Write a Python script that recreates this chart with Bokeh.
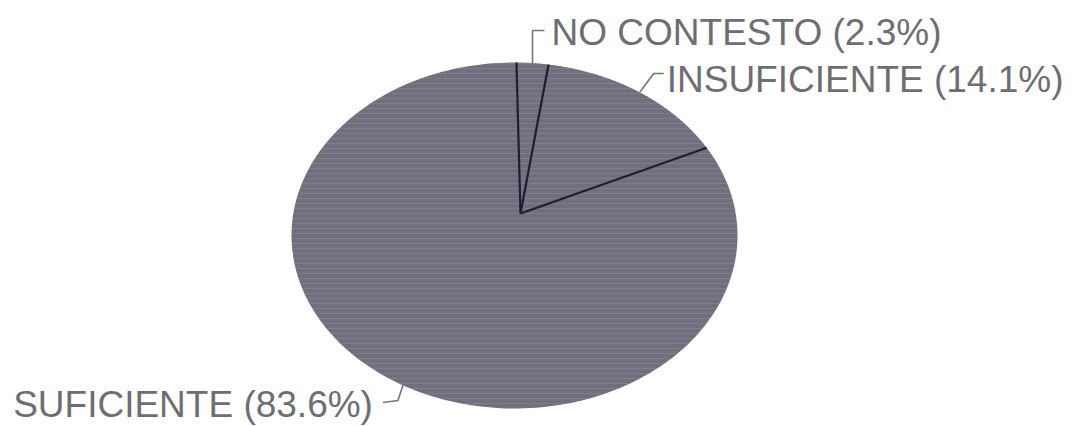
import numpy as np
from bokeh.plotting import figure
from bokeh.models import Range1d, ColumnDataSource
from bokeh.core.properties import value
from bokeh.embed import file_html
from bokeh.resources import INLINE

# ---- data ----
categories = ["NO CONTESTO", "INSUFICIENTE", "SUFICIENTE"]
percents = [2.3, 14.1, 83.6]
label_texts = ["NO CONTESTO (2.3%)", "INSUFICIENTE (14.1%)", "SUFICIENTE (83.6%)"]

# ---- layout (pixel-like data space) ----
W, H = 1073, 426
cx, cy = 514.0, 235.0      # ellipse centre
rx, ry = 223.0, 173.0      # ellipse radii
vx, vy = 520.0, 213.0      # pie vertex
start_deg = 89.5           # first boundary, clockwise

p = figure(width=W, height=H, output_backend="svg", toolbar_location=None,
           x_range=Range1d(0, W), y_range=Range1d(H, 0), min_border=0)
p.axis.visible = False
p.grid.visible = False
p.outline_line_color = None
p.background_fill_color = "white"
p.border_fill_color = "white"

def edge(deg):
    t = np.deg2rad(deg)
    return cx + rx * np.cos(t), cy - ry * np.sin(t)

bounds = [start_deg]
for pc in percents:
    bounds.append(bounds[-1] - pc * 3.6)

xs, ys = [], []
for a0, a1 in zip(bounds[:-1], bounds[1:]):
    angs = np.linspace(a0, a1, 200)
    ex, ey = edge(angs)
    xs.append([vx] + list(ex))
    ys.append([vy] + list(ey))

p.patches(xs, ys, fill_color="#726e7e", line_color=None,
          hatch_pattern="horizontal_line", hatch_color="#9a97a6",
          hatch_alpha=0.35, hatch_scale=5, hatch_weight=1)

# slice boundary lines
bx0, by0 = [], []
for b in bounds[:3]:
    ex, ey = edge(b)
    bx0.append(float(ex)); by0.append(float(ey))
p.segment(x0=[vx] * 3, y0=[vy] * 3, x1=bx0, y1=by0,
          line_color="#211d30", line_width=2.2)

# leader lines
mids = [(a0 + a1) / 2 for a0, a1 in zip(bounds[:-1], bounds[1:])]
m = [edge(a) for a in mids]
leaders_x = [
    [m[0][0], m[0][0], m[0][0] + 12],
    [m[1][0], m[1][0] + 14, m[1][0] + 24],
    [m[2][0], m[2][0] - 5, m[2][0] - 20],
]
leaders_y = [
    [m[0][1], 30, 30],
    [m[1][1], 73, 73],
    [m[2][1], 400, 402],
]
p.multi_line(leaders_x, leaders_y, line_color="#76767a", line_width=1.6)

src = ColumnDataSource(dict(
    x=[leaders_x[0][-1] + 7, leaders_x[1][-1] + 3, leaders_x[2][-1] - 10],
    y=[32, 79, 404],
    text=label_texts,
    align=["left", "left", "right"],
))
p.text(x="x", y="y", text="text", text_align="align", text_baseline="middle",
       text_font=value("Liberation Sans"), text_font_size="37px",
       text_color="#6e6e72", source=src)

open("out.html", "w").write(file_html(p, INLINE))
